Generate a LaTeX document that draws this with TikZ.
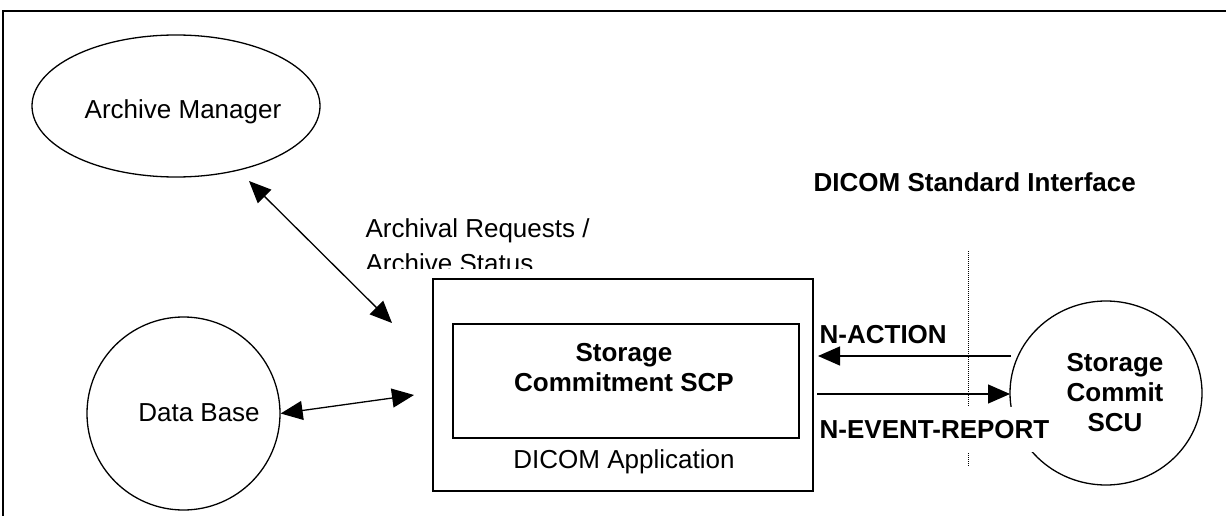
\documentclass[tikz,border=0pt]{standalone}
\usepackage{fontspec}
\setmainfont{Liberation Sans}
\usetikzlibrary{arrows.meta,shapes.geometric}
\begin{document}
\begin{tikzpicture}[x=1pt,y=-1pt,
  line width=1.3pt,
  tipend/.style={-{Triangle[length=22pt,width=19pt]}},
  bothends/.style={{Triangle[length=22pt,width=19pt]}-{Triangle[length=22pt,width=19pt]}},
  txt/.style={inner sep=0pt, font=\fontsize{26}{30}\selectfont},
  btxt/.style={inner sep=0pt, font=\fontsize{26}{30}\selectfont\bfseries},
  shape box/.style={draw, inner sep=0pt},
]
\useasboundingbox (0,0) rectangle (1226,516);
% outer frame
\coordinate (fbl) at (3,530);
\coordinate (ftl) at (3,11);
\coordinate (ftr) at (1240,11);
\draw[line width=1.5pt] (fbl) -- (ftl) -- (ftr);

% Archive Manager
\node[shape box, ellipse, minimum width=288pt, minimum height=142pt] (am) at (176,106) {};
\node[txt, anchor=base] (amt) at (183,119) {Archive Manager};

% Data Base
\node[shape box, circle, minimum size=193pt] (db) at (183.5,413.5) {};
\node[txt, anchor=base] (dbt) at (199,421) {Data Base};

% DICOM application
\node[shape box, minimum width=380pt, minimum height=212pt] (app) at (623,385) {};
\node[shape box, minimum width=346pt, minimum height=114pt] (scpbox) at (626,381) {};
\node[btxt, align=center, anchor=north] (scp) at (624,343) {Storage\\Commitment SCP};
\node[txt, anchor=base] (appt) at (624,468) {DICOM Application};

% archival label (clipped)
\begin{scope}
\clip (300,200) rectangle (700,268);
\node[txt, align=left, anchor=north west, font=\fontsize{26}{35}\selectfont] (req) at (365,218) {Archival Requests /\\Archive Status};
\end{scope}

% arrows left
\coordinate (a1) at (249,181);
\coordinate (a2) at (392,323);
\draw[bothends] (a1) -- (a2);
\coordinate (b2) at (414,395);
\draw[bothends] (db.east) -- (b2);

% SCU
\node[shape box, ellipse, minimum width=192pt, minimum height=184pt] (scu) at (1106,393) {};
\node[btxt, align=center, anchor=north] (scut) at (1115,353) {Storage\\Commit\\SCU};

% interface line
\coordinate (d1) at (968,251);
\coordinate (d2) at (968,466);
\draw[line width=1pt, dash pattern=on 1pt off 1pt] (d1) -- (d2);

\node[btxt, anchor=base west] (dsi) at (813,191) {DICOM Standard Interface};

% messages
\coordinate (na1) at (1011,356);
\coordinate (na2) at (818,356);
\draw[tipend] (na1) -- (na2);
\coordinate (ne1) at (817,394);
\coordinate (ne2) at (1010,394);
\draw[tipend] (ne1) -- (ne2);

\node[btxt, anchor=base west] (nact) at (819,343) {N-ACTION};
\node[btxt, anchor=base west, fill=white, inner xsep=3pt, text height=31pt, text depth=14pt] (nevt) at (816,438) {N-EVENT-REPORT};
\end{tikzpicture}
\end{document}
